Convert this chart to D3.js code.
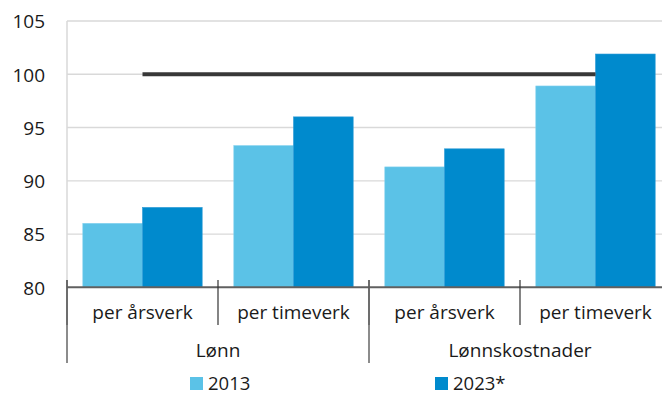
<!DOCTYPE html>
<html><head><meta charset="utf-8">
<script src="https://cdn.jsdelivr.net/npm/d3@7"></script>
<style>body{margin:0;background:#fff;} text{font-family:"Open Sans",sans-serif;fill:#1a1a1a;}</style>
</head><body>
<svg id="c" width="662" height="394"></svg>
<script>
const groups = ["Lønn", "Lønnskostnader"];
const subcats = ["per årsverk", "per timeverk"];
const categories = ["Lønn|per årsverk", "Lønn|per timeverk", "Lønnskostnader|per årsverk", "Lønnskostnader|per timeverk"];
const series = ["2013", "2023*"];
const values2013 = [86.0, 93.3, 91.3, 98.9];
const values2023 = [87.5, 96.0, 93.0, 101.9];
const yTicks = [80, 85, 90, 95, 100, 105];
const refValue = 100;
const colors = ["#5bc2e7", "#008acd"];

const svg = d3.select("#c");
const x0 = d3.scaleBand().domain(categories).range([67, 671]).paddingInner(0).paddingOuter(0);
const x1 = d3.scaleBand().domain(series).range([0, x0.bandwidth()]).paddingInner(0).paddingOuter(0.265);
const y = d3.scaleLinear().domain([80, 105]).range([287.3, 21]);

// gridlines
svg.append("g").selectAll("line").data(yTicks.slice(1)).join("line")
  .attr("x1", 67).attr("x2", 662).attr("y1", d => y(d)).attr("y2", d => y(d))
  .attr("stroke", "#d9d9d9").attr("stroke-width", 1.3);
// y axis line
svg.append("line").attr("x1", 67).attr("x2", 67).attr("y1", y(105)).attr("y2", y(80))
  .attr("stroke", "#d9d9d9").attr("stroke-width", 1.5);

// y tick labels
const yAxis = d3.axisLeft(y).tickValues(yTicks).tickSize(0).tickPadding(0);
const ga = svg.append("g").attr("transform", "translate(45,0)").call(yAxis);
ga.select(".domain").remove();
ga.selectAll("text").attr("font-size", 19).attr("fill", "#1a1a1a").attr("dy", "0.36em");

// bars
const data = categories.map((c, i) => ({cat: c, vals: [values2013[i], values2023[i]]}));
const bg = svg.append("g").selectAll("g").data(data).join("g")
  .attr("transform", d => `translate(${x0(d.cat)},0)`);
bg.selectAll("rect").data(d => d.vals.map((v, j) => ({s: series[j], v, j}))).join("rect")
  .attr("x", d => x1(d.s)).attr("width", x1.bandwidth())
  .attr("y", d => y(d.v)).attr("height", d => y(80) - y(d.v))
  .attr("fill", d => colors[d.j])
  .attr("stroke", d => d.j === 0 ? "#7fd0ee" : "#2a9ad6").attr("stroke-width", 0.6);

// reference line at 100
svg.append("line")
  .attr("x1", x0(categories[0]) + x0.bandwidth() / 2)
  .attr("x2", x0(categories[3]) + x0.bandwidth() / 2)
  .attr("y1", y(refValue)).attr("y2", y(refValue))
  .attr("stroke", "#383838").attr("stroke-width", 4);

// bottom axis
svg.append("line").attr("x1", 67).attr("x2", 662).attr("y1", y(80)).attr("y2", y(80))
  .attr("stroke", "#606060").attr("stroke-width", 2);

// inner ticks
const bounds = categories.map(c => x0(c));
svg.append("g").selectAll("line").data(bounds).join("line")
  .attr("x1", d => d).attr("x2", d => d).attr("y1", 280).attr("y2", 325)
  .attr("stroke", "#333").attr("stroke-width", 1.2);
// outer ticks
const gBounds = groups.map(g => x0(categories.find(c => c.startsWith(g + "|"))));
svg.append("g").selectAll("line").data(gBounds).join("line")
  .attr("x1", d => d).attr("x2", d => d).attr("y1", 280).attr("y2", 363)
  .attr("stroke", "#666").attr("stroke-width", 1.5);

// sub labels
svg.append("g").selectAll("text").data(categories).join("text")
  .attr("x", d => x0(d) + x0.bandwidth() / 2).attr("y", 319)
  .attr("text-anchor", "middle").attr("font-size", 19)
  .text(d => d.split("|")[1]);
// group labels
svg.append("g").selectAll("text").data(groups).join("text")
  .attr("x", g => {
    const cs = categories.filter(c => c.startsWith(g + "|"));
    return (x0(cs[0]) + x0(cs[cs.length - 1]) + x0.bandwidth()) / 2;
  }).attr("y", 357)
  .attr("text-anchor", "middle").attr("font-size", 19).text(g => g);

// legend
const legX = [190, 435];
const lg = svg.append("g").selectAll("g").data(series).join("g")
  .attr("transform", (d, i) => `translate(${legX[i]},0)`);
lg.append("rect").attr("x", 0).attr("y", 377).attr("width", 13).attr("height", 13)
  .attr("fill", (d, i) => colors[i]);
lg.append("text").attr("x", 18).attr("y", 389.5).attr("font-size", 18.5).text(d => d);
</script>
</body></html>
